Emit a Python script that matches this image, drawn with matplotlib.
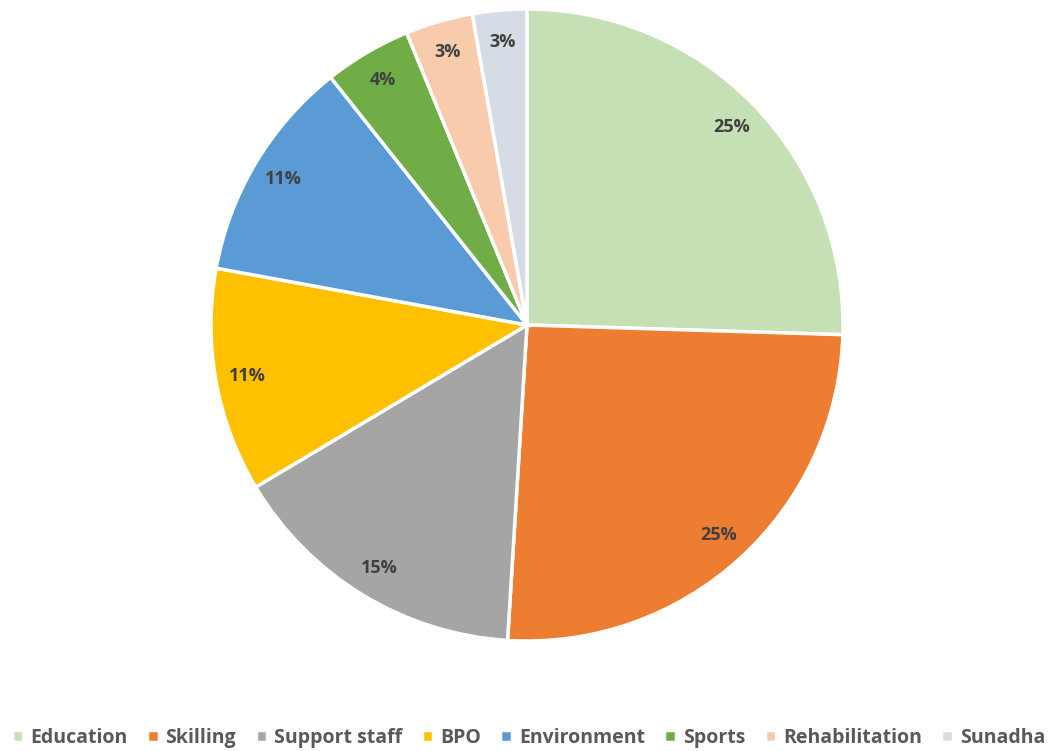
import matplotlib.pyplot as plt

plt.rcParams['font.family'] = ['Open Sans', 'DejaVu Sans']

categories = ['Education', 'Skilling', 'Support staff', 'BPO',
              'Environment', 'Sports', 'Rehabilitation', 'Sunadha']
shares = [25.49, 25.49, 15.45, 11.45, 11.45, 4.45, 3.45, 2.77]
colors = ['#C5E0B4', '#ED7D31', '#A5A5A5', '#FFC000',
          '#5B9BD5', '#70AD47', '#F8CBAD', '#D6DCE5']

fig = plt.figure(figsize=(10.57, 7.51), dpi=100)
# pie centred at about (527, 325) px, radius about 316 px
ax = fig.add_axes([(527 - 316) / 1057, (751 - 325 - 316) / 751,
                   632 / 1057, 632 / 751])

wedges, texts, autotexts = ax.pie(
    shares,
    colors=colors,
    startangle=90,
    counterclock=False,
    autopct='%.0f%%',
    pctdistance=0.9,
    radius=1.0,
    wedgeprops=dict(edgecolor='white', linewidth=2.5),
    textprops=dict(color='#404040', fontsize=13, fontweight='bold'),
)
ax.set_xlim(-1.0, 1.0)
ax.set_ylim(-1.0, 1.0)
ax.set_aspect('equal')
ax.axis('off')

leg = fig.legend(
    wedges, categories,
    loc='center', bbox_to_anchor=(0.5, 1 - 738 / 751),
    ncol=8, frameon=False,
    handlelength=0.6, handleheight=0.6, handletextpad=0.35,
    columnspacing=1.0,
    prop=dict(size=14, weight='bold'),
)
for t in leg.get_texts():
    t.set_color('#595959')

fig.savefig('out.png', dpi=100)
